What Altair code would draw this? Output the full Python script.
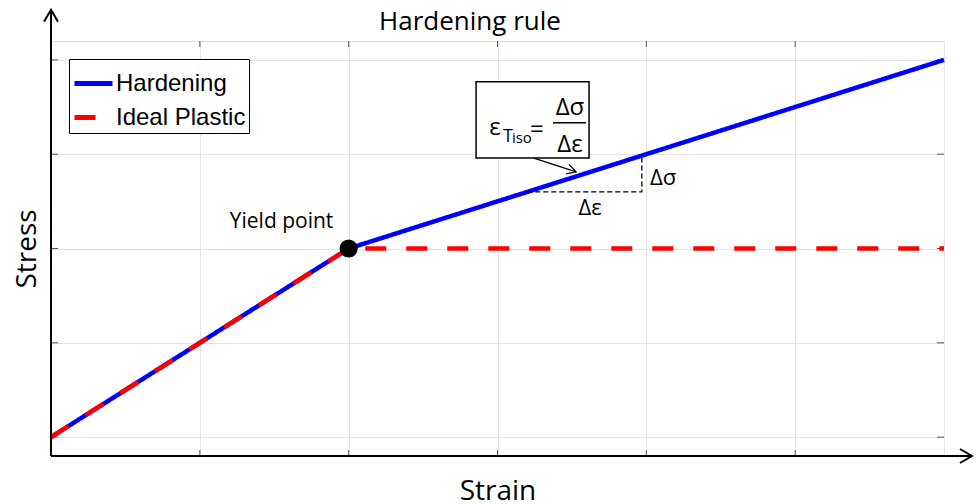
import altair as alt
import pandas as pd

# ---------------- data ----------------
series = ["Hardening", "Hardening", "Hardening",
          "Ideal Plastic", "Ideal Plastic", "Ideal Plastic"]
strain = [0, 2, 6, 0, 2, 6]
stress = [0, 2, 4, 0, 2, 2]

yield_strain = [2]
yield_stress = [2]
yield_label = ["Yield point"]
yield_label_pos = [1.549, 2.218]

chart_title = ["Hardening rule"]
title_pos = [2.815, 4.318]

x_ticks = [0, 1, 2, 3, 4, 5, 6]
y_ticks = [0, 1, 2, 3, 4]
x_domain = [0, 6]
y_domain = [-0.2, 4.2]

# axis arrows (tips, data units)
axis_up_tip = [0, 4.531]
axis_right_tip = [6.188, -0.2]

# slope triangle
tri_x = [3.2, 3.97, 3.97]
tri_y = [2.6, 2.6, 2.985]
tri_labels = ["Δσ", "Δε"]
tri_label_x = [4.112, 3.622]
tri_label_y = [2.674, 2.355]

# formula box
box_x = [2.856, 3.615]
box_y = [2.960, 3.767]
frac_x = [3.373, 3.595]
frac_y = [3.332]
arrow_x = [3.239, 3.528]
arrow_y = [2.960, 2.812]
formula_main = ["ε", "=", "Δσ", "Δε"]
formula_main_x = [2.983, 3.265, 3.487, 3.487]
formula_main_y = [3.204, 3.183, 3.416, 3.024]

# ---------------- scales / axes ----------------
xs = alt.Scale(domain=x_domain, nice=False, zero=False)
ys = alt.Scale(domain=y_domain, nice=False, zero=False)
FONT = "Open Sans"
xaxis = alt.Axis(values=x_ticks, grid=True, labels=False, ticks=False, domain=False,
                 title="Strain", titleFont=FONT, titleFontSize=28, titleFontWeight="normal",
                 titleColor="black", titlePadding=21, gridColor="#e3e3e3", gridWidth=1)
yaxis = alt.Axis(values=y_ticks, grid=True, labels=False, ticks=False, domain=False,
                 title="Stress", titleFont=FONT, titleFontSize=28, titleFontWeight="normal",
                 titleColor="black", titlePadding=10, gridColor="#e3e3e3", gridWidth=1)


def X(f):
    return alt.X(f, type="quantitative", scale=xs, axis=xaxis)


def Y(f):
    return alt.Y(f, type="quantitative", scale=ys, axis=yaxis)


# ---------------- layers ----------------
curves_df = pd.DataFrame({"series": series, "x": strain, "y": stress,
                          "o": list(range(len(strain)))})
leg = alt.Legend(title=None, orient="none", legendX=18, legendY=18,
                 fillColor="white", strokeColor="black", padding=3,
                 symbolType="stroke", symbolSize=1444, symbolStrokeWidth=5,
                 labelFont="Liberation Sans", labelFontSize=24, labelColor="black",
                 rowPadding=0, labelOffset=1)
curves = alt.Chart(curves_df).mark_line(strokeWidth=4.5, clip=False).encode(
    x=X("x"), y=Y("y"), order="o:Q",
    color=alt.Color("series:N", scale=alt.Scale(domain=["Hardening", "Ideal Plastic"],
                                                range=["#0000ff", "#ff0000"]), legend=leg),
    strokeDash=alt.StrokeDash("series:N", scale=alt.Scale(domain=["Hardening", "Ideal Plastic"],
                                                          range=[[1, 0], [21, 20]]), legend=leg),
)

# inward ticks
xt_df = pd.DataFrame({"x": x_ticks[1:-1]})
yt_df = pd.DataFrame({"y": y_ticks})
tick_bottom = alt.Chart(xt_df).mark_rule(color="#555", strokeWidth=1).encode(
    x=X("x"), y=alt.value(415), y2=alt.value(409))
tick_top = alt.Chart(xt_df).mark_rule(color="#555", strokeWidth=1).encode(
    x=X("x"), y=alt.value(0), y2=alt.value(6))
tick_left = alt.Chart(yt_df).mark_rule(color="#555", strokeWidth=1).encode(
    y=Y("y"), x=alt.value(0), x2=alt.value(7))
tick_right = alt.Chart(yt_df).mark_rule(color="#555", strokeWidth=1).encode(
    y=Y("y"), x=alt.value(893), x2=alt.value(886))

# title as text
title_txt = alt.Chart(pd.DataFrame({"x": [title_pos[0]], "y": [title_pos[1]], "t": chart_title})).mark_text(
    font=FONT, fontSize=26, color="black", align="center", baseline="alphabetic", clip=False).encode(
    x=X("x"), y=Y("y"), text="t:N")

# yield point
yp = alt.Chart(pd.DataFrame({"x": yield_strain, "y": yield_stress})).mark_circle(
    size=330, color="black", opacity=1).encode(x=X("x"), y=Y("y"))
yp_text = alt.Chart(pd.DataFrame({"x": [yield_label_pos[0]], "y": [yield_label_pos[1]],
                                  "t": yield_label})).mark_text(
    font=FONT, fontSize=21, color="black", align="center", baseline="alphabetic").encode(
    x=X("x"), y=Y("y"), text="t:N")

# axis lines with arrows
ax_df = pd.DataFrame({"x": [x_domain[0], axis_right_tip[0]], "y": [y_domain[0], y_domain[0]],
                      "x2": [x_domain[0], x_domain[0]], "y2": [axis_up_tip[1], y_domain[0]]})
ax_lines = alt.Chart(ax_df).mark_rule(color="black", strokeWidth=2, clip=False).encode(
    x=X("x"), y=Y("y"), x2="x2:Q", y2="y2:Q")
up_head = alt.Chart(pd.DataFrame({"x": [axis_up_tip[0]], "y": [axis_up_tip[1]]})).mark_point(
    shape="M -0.583 1 L 0 0 L 0.583 1", size=576, filled=False, color="black",
    strokeWidth=2, opacity=1, clip=False).encode(x=X("x"), y=Y("y"))
right_head = alt.Chart(pd.DataFrame({"x": [axis_right_tip[0]], "y": [axis_right_tip[1]]})).mark_point(
    shape="M -1 -0.583 L 0 0 L -1 0.583", size=576, filled=False, color="black",
    strokeWidth=2, opacity=1, clip=False).encode(x=X("x"), y=Y("y"))

# slope triangle
tri_df = pd.DataFrame({"x": tri_x, "y": tri_y, "o": [0, 1, 2]})
tri = alt.Chart(tri_df).mark_line(color="black", strokeWidth=1.3, strokeDash=[5, 3]).encode(
    x=X("x"), y=Y("y"), order="o:Q")
tri_txt = alt.Chart(pd.DataFrame({"x": tri_label_x, "y": tri_label_y, "t": tri_labels})).mark_text(
    font=FONT, fontSize=22, color="black", align="center", baseline="alphabetic").encode(
    x=X("x"), y=Y("y"), text="t:N")

# formula box
box = alt.Chart(pd.DataFrame({"x": [box_x[0]], "x2": [box_x[1]], "y": [box_y[0]], "y2": [box_y[1]]})).mark_rect(
    fill="white", stroke="black", strokeWidth=1.5).encode(x=X("x"), x2="x2:Q", y=Y("y"), y2="y2:Q")
frac = alt.Chart(pd.DataFrame({"x": [frac_x[0]], "x2": [frac_x[1]], "y": frac_y})).mark_rule(
    color="black", strokeWidth=1.5).encode(x=X("x"), x2="x2:Q", y=Y("y"))
arrow_line = alt.Chart(pd.DataFrame({"x": [arrow_x[0]], "x2": [arrow_x[1]],
                                     "y": [arrow_y[0]], "y2": [arrow_y[1]]})).mark_rule(
    color="black", strokeWidth=1.3).encode(x=X("x"), x2="x2:Q", y=Y("y"), y2="y2:Q")
arrow_head = alt.Chart(pd.DataFrame({"x": [arrow_x[1]], "y": [arrow_y[1]]})).mark_point(
    shape="M -1 -0.55 L 0 0 L -1 0.55", size=324, filled=False, color="black",
    strokeWidth=1.3, opacity=1, angle=18).encode(x=X("x"), y=Y("y"))

f_big = alt.Chart(pd.DataFrame({"x": formula_main_x, "y": formula_main_y,
                                "t": formula_main})).mark_text(
    font=FONT, fontSize=24, color="black", align="center", baseline="alphabetic").encode(
    x=X("x"), y=Y("y"), text="t:N")
f_sub = alt.Chart(pd.DataFrame({"x": [3.037], "y": [3.130], "t": ["T"]})).mark_text(
    font=FONT, fontSize=18, color="black", align="left", baseline="alphabetic").encode(
    x=X("x"), y=Y("y"), text="t:N")
f_subsub = alt.Chart(pd.DataFrame({"x": [3.097], "y": [3.119], "t": ["iso"]})).mark_text(
    font=FONT, fontSize=15, color="black", align="left", baseline="alphabetic").encode(
    x=X("x"), y=Y("y"), text="t:N")

chart = alt.layer(
    tick_bottom, tick_top, tick_left, tick_right,
    curves, yp, yp_text, ax_lines, up_head, right_head, title_txt,
    tri, tri_txt, arrow_line, box, frac, arrow_head, f_big, f_sub, f_subsub,
).properties(
    width=893, height=415,
    autosize=alt.AutoSizeParams(type="none"),
    padding={"left": 51, "top": 41, "right": 32, "bottom": 48},
).configure_view(
    stroke="#8c8c8c", strokeWidth=1
).configure(background="white")

chart.save("out.html", embed_options={"renderer": "svg", "actions": False})
